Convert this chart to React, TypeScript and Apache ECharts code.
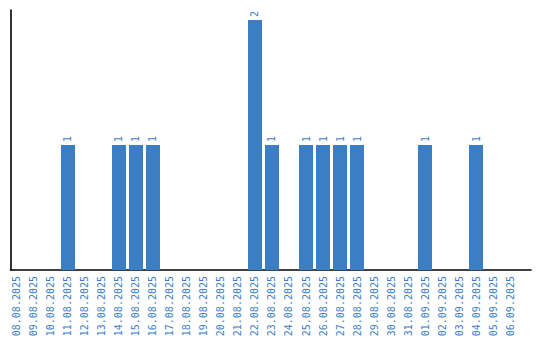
import React, { useEffect, useRef } from "react";
import * as echarts from "echarts";

const dates: string[] = [
  "08.08.2025", "09.08.2025", "10.08.2025", "11.08.2025", "12.08.2025",
  "13.08.2025", "14.08.2025", "15.08.2025", "16.08.2025", "17.08.2025",
  "18.08.2025", "19.08.2025", "20.08.2025", "21.08.2025", "22.08.2025",
  "23.08.2025", "24.08.2025", "25.08.2025", "26.08.2025", "27.08.2025",
  "28.08.2025", "29.08.2025", "30.08.2025", "31.08.2025", "01.09.2025",
  "02.09.2025", "03.09.2025", "04.09.2025", "05.09.2025", "06.09.2025",
];

const counts: number[] = [
  0, 0, 0, 1, 0, 0, 1, 1, 1, 0,
  0, 0, 0, 0, 2, 1, 0, 1, 1, 1,
  1, 0, 0, 0, 1, 0, 0, 1, 0, 0,
];

const BLUE = "#3b7ec3";
const FONT = "'DejaVu Sans Mono', monospace";

export default function App() {
  const ref = useRef<HTMLDivElement>(null);
  useEffect(() => {
    if (!ref.current) return;
    const chart = echarts.init(ref.current, null, { renderer: "svg" });
    const idx = dates.map((_, i) => i);
    chart.setOption({
      animation: false,
      grid: { left: 10.5, right: 9, top: 10, bottom: 70, containLabel: false },
      xAxis: {
        type: "value",
        min: -0.382,
        max: 30.235,
        axisLine: { show: true, onZero: false, lineStyle: { color: "#000", width: 1.6 } },
        axisTick: { show: false },
        splitLine: { show: false },
        axisLabel: {
          customValues: idx,
          rotate: 90,
          margin: 6,
          color: BLUE,
          fontFamily: FONT,
          fontSize: 10,
          formatter: (v: number) => dates[Math.round(v)] ?? "",
        },
      },
      yAxis: {
        type: "value",
        min: 0,
        max: 2.08,
        axisLine: { show: true, onZero: false, lineStyle: { color: "#000", width: 1.6 } },
        axisTick: { show: false },
        axisLabel: { show: false },
        splitLine: { show: false },
      },
      series: [
        {
          type: "bar",
          barWidth: 14,
          data: counts.map((c, i) => [i, c]),
          itemStyle: { color: BLUE },
          label: {
            show: true,
            position: "top",
            rotate: 90,
            align: "left",
            verticalAlign: "middle",
            distance: 3,
            color: BLUE,
            fontFamily: FONT,
            fontSize: 10,
            formatter: (p: any) => (p.value[1] ? String(p.value[1]) : ""),
          },
        },
      ],
    });
    return () => chart.dispose();
  }, []);
  return <div ref={ref} style={{ width: 540, height: 340, position: "absolute", left: 0, top: 0 }} />;
}
